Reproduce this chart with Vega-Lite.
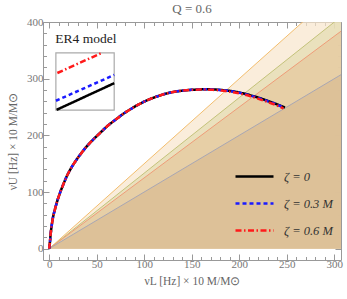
{
  "$schema": "https://vega.github.io/schema/vega-lite/v6.json",
  "width": 298,
  "height": 238,
  "autosize": "none",
  "padding": {"left": 43, "top": 22, "right": 6, "bottom": 39},
  "title": {"text": "Q = 0.6", "font": "Liberation Serif", "fontSize": 13, "fontWeight": "normal", "color": "#666", "offset": 0},
  "config": {
    "view": {"stroke": "#999", "strokeWidth": 1},
    "axis": {"grid": false, "domain": false, "tickColor": "#999", "labelFont": "Liberation Serif", "labelFontSize": 11, "labelColor": "#777", "titleFont": "Liberation Serif", "titleFontSize": 11.5, "titleFontWeight": "normal", "titleColor": "#666"}
  },
  "datasets": {
    "bands": [
      {"band": "3:2", "x": 0, "y": 0}, {"band": "3:2", "x": 310, "y": 465},
      {"band": "4:3", "x": 0, "y": 0}, {"band": "4:3", "x": 310, "y": 413.3},
      {"band": "5:4", "x": 0, "y": 0}, {"band": "5:4", "x": 310, "y": 387.5},
      {"band": "1:1", "x": 0, "y": 0}, {"band": "1:1", "x": 310, "y": 310}
    ],
    "curves": [
      {"s": "ζ = 0", "part": "main", "x": 0, "y": 0}, {"s": "ζ = 0", "part": "main", "x": 0.3, "y": 5}, {"s": "ζ = 0", "part": "main", "x": 0.7, "y": 10}, {"s": "ζ = 0", "part": "main", "x": 1.5, "y": 25}, {"s": "ζ = 0", "part": "main", "x": 2.5, "y": 39}, {"s": "ζ = 0", "part": "main", "x": 4, "y": 55}, {"s": "ζ = 0", "part": "main", "x": 6, "y": 69}, {"s": "ζ = 0", "part": "main", "x": 8.5, "y": 84}, {"s": "ζ = 0", "part": "main", "x": 11.3, "y": 98}, {"s": "ζ = 0", "part": "main", "x": 14.5, "y": 112}, {"s": "ζ = 0", "part": "main", "x": 18.3, "y": 127}, {"s": "ζ = 0", "part": "main", "x": 23, "y": 142}, {"s": "ζ = 0", "part": "main", "x": 28.8, "y": 157}, {"s": "ζ = 0", "part": "main", "x": 34, "y": 169}, {"s": "ζ = 0", "part": "main", "x": 39.3, "y": 180}, {"s": "ζ = 0", "part": "main", "x": 46, "y": 192}, {"s": "ζ = 0", "part": "main", "x": 53.4, "y": 204}, {"s": "ζ = 0", "part": "main", "x": 61, "y": 216}, {"s": "ζ = 0", "part": "main", "x": 69.3, "y": 227}, {"s": "ζ = 0", "part": "main", "x": 78, "y": 238}, {"s": "ζ = 0", "part": "main", "x": 88.4, "y": 249}, {"s": "ζ = 0", "part": "main", "x": 97, "y": 257}, {"s": "ζ = 0", "part": "main", "x": 106, "y": 264}, {"s": "ζ = 0", "part": "main", "x": 115, "y": 269.5}, {"s": "ζ = 0", "part": "main", "x": 123.6, "y": 274}, {"s": "ζ = 0", "part": "main", "x": 132, "y": 277}, {"s": "ζ = 0", "part": "main", "x": 141, "y": 279}, {"s": "ζ = 0", "part": "main", "x": 150, "y": 280.3}, {"s": "ζ = 0", "part": "main", "x": 158.6, "y": 281}, {"s": "ζ = 0", "part": "main", "x": 165, "y": 281.2}, {"s": "ζ = 0", "part": "main", "x": 172, "y": 281}, {"s": "ζ = 0", "part": "main", "x": 181, "y": 280}, {"s": "ζ = 0", "part": "main", "x": 190, "y": 278.5}, {"s": "ζ = 0", "part": "main", "x": 200, "y": 275.5}, {"s": "ζ = 0", "part": "main", "x": 211, "y": 271}, {"s": "ζ = 0", "part": "main", "x": 221, "y": 266}, {"s": "ζ = 0", "part": "main", "x": 232, "y": 259.5}, {"s": "ζ = 0", "part": "main", "x": 240, "y": 254.5}, {"s": "ζ = 0", "part": "main", "x": 248, "y": 249},
      {"s": "ζ = 0.3 M", "part": "main", "x": 0, "y": 0}, {"s": "ζ = 0.3 M", "part": "main", "x": 0.3, "y": 5}, {"s": "ζ = 0.3 M", "part": "main", "x": 0.7, "y": 10}, {"s": "ζ = 0.3 M", "part": "main", "x": 1.5, "y": 25}, {"s": "ζ = 0.3 M", "part": "main", "x": 2.5, "y": 39}, {"s": "ζ = 0.3 M", "part": "main", "x": 4, "y": 55}, {"s": "ζ = 0.3 M", "part": "main", "x": 6, "y": 69}, {"s": "ζ = 0.3 M", "part": "main", "x": 8.5, "y": 84}, {"s": "ζ = 0.3 M", "part": "main", "x": 11.3, "y": 98}, {"s": "ζ = 0.3 M", "part": "main", "x": 14.5, "y": 112}, {"s": "ζ = 0.3 M", "part": "main", "x": 18.3, "y": 127}, {"s": "ζ = 0.3 M", "part": "main", "x": 23, "y": 142}, {"s": "ζ = 0.3 M", "part": "main", "x": 28.8, "y": 157}, {"s": "ζ = 0.3 M", "part": "main", "x": 34, "y": 169}, {"s": "ζ = 0.3 M", "part": "main", "x": 39.3, "y": 180}, {"s": "ζ = 0.3 M", "part": "main", "x": 46, "y": 192}, {"s": "ζ = 0.3 M", "part": "main", "x": 53.4, "y": 204}, {"s": "ζ = 0.3 M", "part": "main", "x": 61, "y": 216}, {"s": "ζ = 0.3 M", "part": "main", "x": 69.3, "y": 227}, {"s": "ζ = 0.3 M", "part": "main", "x": 78, "y": 238}, {"s": "ζ = 0.3 M", "part": "main", "x": 88.4, "y": 249}, {"s": "ζ = 0.3 M", "part": "main", "x": 97, "y": 257}, {"s": "ζ = 0.3 M", "part": "main", "x": 106, "y": 264}, {"s": "ζ = 0.3 M", "part": "main", "x": 115, "y": 269.5}, {"s": "ζ = 0.3 M", "part": "main", "x": 123.6, "y": 274}, {"s": "ζ = 0.3 M", "part": "main", "x": 132, "y": 277}, {"s": "ζ = 0.3 M", "part": "main", "x": 141, "y": 279}, {"s": "ζ = 0.3 M", "part": "main", "x": 150, "y": 280.3}, {"s": "ζ = 0.3 M", "part": "main", "x": 158.6, "y": 281}, {"s": "ζ = 0.3 M", "part": "main", "x": 165, "y": 281.2}, {"s": "ζ = 0.3 M", "part": "main", "x": 172, "y": 281}, {"s": "ζ = 0.3 M", "part": "main", "x": 181, "y": 280}, {"s": "ζ = 0.3 M", "part": "main", "x": 190, "y": 278.3}, {"s": "ζ = 0.3 M", "part": "main", "x": 200, "y": 275.2}, {"s": "ζ = 0.3 M", "part": "main", "x": 211, "y": 270.6}, {"s": "ζ = 0.3 M", "part": "main", "x": 221, "y": 265.5}, {"s": "ζ = 0.3 M", "part": "main", "x": 232, "y": 259}, {"s": "ζ = 0.3 M", "part": "main", "x": 240, "y": 254}, {"s": "ζ = 0.3 M", "part": "main", "x": 247.5, "y": 248.6},
      {"s": "ζ = 0.6 M", "part": "main", "x": 0, "y": 0}, {"s": "ζ = 0.6 M", "part": "main", "x": 0.3, "y": 5}, {"s": "ζ = 0.6 M", "part": "main", "x": 0.7, "y": 10}, {"s": "ζ = 0.6 M", "part": "main", "x": 1.5, "y": 25}, {"s": "ζ = 0.6 M", "part": "main", "x": 2.5, "y": 39}, {"s": "ζ = 0.6 M", "part": "main", "x": 4, "y": 55}, {"s": "ζ = 0.6 M", "part": "main", "x": 6, "y": 69}, {"s": "ζ = 0.6 M", "part": "main", "x": 8.5, "y": 84}, {"s": "ζ = 0.6 M", "part": "main", "x": 11.3, "y": 98}, {"s": "ζ = 0.6 M", "part": "main", "x": 14.5, "y": 112}, {"s": "ζ = 0.6 M", "part": "main", "x": 18.3, "y": 127}, {"s": "ζ = 0.6 M", "part": "main", "x": 23, "y": 142}, {"s": "ζ = 0.6 M", "part": "main", "x": 28.8, "y": 157}, {"s": "ζ = 0.6 M", "part": "main", "x": 34, "y": 169}, {"s": "ζ = 0.6 M", "part": "main", "x": 39.3, "y": 180}, {"s": "ζ = 0.6 M", "part": "main", "x": 46, "y": 192}, {"s": "ζ = 0.6 M", "part": "main", "x": 53.4, "y": 204}, {"s": "ζ = 0.6 M", "part": "main", "x": 61, "y": 216}, {"s": "ζ = 0.6 M", "part": "main", "x": 69.3, "y": 227}, {"s": "ζ = 0.6 M", "part": "main", "x": 78, "y": 238}, {"s": "ζ = 0.6 M", "part": "main", "x": 88.4, "y": 249}, {"s": "ζ = 0.6 M", "part": "main", "x": 97, "y": 257}, {"s": "ζ = 0.6 M", "part": "main", "x": 106, "y": 264}, {"s": "ζ = 0.6 M", "part": "main", "x": 115, "y": 269.5}, {"s": "ζ = 0.6 M", "part": "main", "x": 123.6, "y": 274}, {"s": "ζ = 0.6 M", "part": "main", "x": 132, "y": 277}, {"s": "ζ = 0.6 M", "part": "main", "x": 141, "y": 279}, {"s": "ζ = 0.6 M", "part": "main", "x": 150, "y": 280.2}, {"s": "ζ = 0.6 M", "part": "main", "x": 158.6, "y": 280.7}, {"s": "ζ = 0.6 M", "part": "main", "x": 165, "y": 280.7}, {"s": "ζ = 0.6 M", "part": "main", "x": 172, "y": 280.3}, {"s": "ζ = 0.6 M", "part": "main", "x": 181, "y": 279}, {"s": "ζ = 0.6 M", "part": "main", "x": 190, "y": 277}, {"s": "ζ = 0.6 M", "part": "main", "x": 200, "y": 274}, {"s": "ζ = 0.6 M", "part": "main", "x": 211, "y": 269.3}, {"s": "ζ = 0.6 M", "part": "main", "x": 221, "y": 264}, {"s": "ζ = 0.6 M", "part": "main", "x": 232, "y": 257.5}, {"s": "ζ = 0.6 M", "part": "main", "x": 240, "y": 252.5}, {"s": "ζ = 0.6 M", "part": "main", "x": 246.5, "y": 247.5},
      {"s": "ζ = 0", "part": "inset", "x": 7.8, "y": 245}, {"s": "ζ = 0", "part": "inset", "x": 68.4, "y": 292},
      {"s": "ζ = 0.3 M", "part": "inset", "x": 7.1, "y": 261}, {"s": "ζ = 0.3 M", "part": "inset", "x": 68.4, "y": 306.6},
      {"s": "ζ = 0.6 M", "part": "inset", "x": 8.6, "y": 310}, {"s": "ζ = 0.6 M", "part": "inset", "x": 54.7, "y": 345}
    ],
    "insetbox": [{"x": 7.05, "x2": 68.4, "y": 244.4, "y2": 345.4}],
    "notes": [{"label": "ER4 model", "x": 6.5, "y": 369.5}]
  },
  "layer": [
    {
      "data": {"name": "bands"},
      "transform": [{"filter": "datum.band === '3:2'"}],
      "mark": {"type": "area", "clip": true, "fill": "#f8e6cc", "line": {"stroke": "#f2bd6e", "strokeWidth": 1}},
      "encoding": {
        "x": {"field": "x", "type": "quantitative", "scale": {"domain": [-6.5, 307], "nice": false, "zero": false},
          "axis": {"orient": "bottom", "values": [0,10,20,30,40,50,60,70,80,90,100,110,120,130,140,150,160,170,180,190,200,210,220,230,240,250,260,270,280,290,300],
            "labelExpr": "datum.value % 50 === 0 ? datum.label : ''",
            "tickSize": {"condition": {"test": "datum.value % 50 === 0", "value": -6}, "value": -3.5},
            "labelPadding": 4, "title": "νL [Hz] × 10 M/M⊙", "titlePadding": 6}},
        "y": {"field": "y", "type": "quantitative", "scale": {"domain": [-20, 400], "nice": false, "zero": false},
          "axis": {"orient": "left", "values": [0,20,40,60,80,100,120,140,160,180,200,220,240,260,280,300,320,340,360,380,400],
            "labelExpr": "datum.value % 100 === 0 ? datum.label : ''",
            "tickSize": {"condition": {"test": "datum.value % 100 === 0", "value": -6}, "value": -3.5},
            "labelPadding": 6, "title": "νU [Hz] × 10 M/M⊙", "titlePadding": 8}},
        "y2": {"datum": 0}
      }
    },
    {
      "data": {"name": "bands"},
      "transform": [{"filter": "datum.band === '4:3'"}],
      "mark": {"type": "area", "clip": true, "fill": "#e3dcb1", "line": {"stroke": "#c3c27a", "strokeWidth": 1}},
      "encoding": {
        "x": {"field": "x", "type": "quantitative", "scale": {"domain": [-6.5, 307], "nice": false, "zero": false}, "axis": null},
        "y": {"field": "y", "type": "quantitative", "scale": {"domain": [-20, 400], "nice": false, "zero": false}, "axis": null},
        "y2": {"datum": 0}
      }
    },
    {
      "data": {"name": "bands"},
      "transform": [{"filter": "datum.band === '5:4'"}],
      "mark": {"type": "area", "clip": true, "fill": "#e6c89d", "line": {"stroke": "#ef9c78", "strokeWidth": 1}},
      "encoding": {
        "x": {"field": "x", "type": "quantitative", "scale": {"domain": [-6.5, 307], "nice": false, "zero": false}, "axis": null},
        "y": {"field": "y", "type": "quantitative", "scale": {"domain": [-20, 400], "nice": false, "zero": false}, "axis": null},
        "y2": {"datum": 0}
      }
    },
    {
      "data": {"name": "bands"},
      "transform": [{"filter": "datum.band === '1:1'"}],
      "mark": {"type": "area", "clip": true, "fill": "#d8ba93", "line": {"stroke": "#a9a7b3", "strokeWidth": 1}},
      "encoding": {
        "x": {"field": "x", "type": "quantitative", "scale": {"domain": [-6.5, 307], "nice": false, "zero": false}, "axis": null},
        "y": {"field": "y", "type": "quantitative", "scale": {"domain": [-20, 400], "nice": false, "zero": false}, "axis": null},
        "y2": {"datum": 0}
      }
    },
    {
      "data": {"name": "insetbox"},
      "mark": {"type": "rect", "fill": "white", "stroke": "#aaa", "strokeWidth": 1.2},
      "encoding": {
        "x": {"field": "x", "type": "quantitative", "scale": {"domain": [-6.5, 307], "nice": false, "zero": false},
          "axis": {"orient": "top", "values": [0,10,20,30,40,50,60,70,80,90,100,110,120,130,140,150,160,170,180,190,200,210,220,230,240,250,260,270,280,290,300],
            "labels": false, "title": null,
            "tickSize": {"condition": {"test": "datum.value % 50 === 0", "value": -6}, "value": -3.5}}},
        "x2": {"field": "x2"},
        "y": {"field": "y", "type": "quantitative", "scale": {"domain": [-20, 400], "nice": false, "zero": false},
          "axis": {"orient": "right", "values": [0,20,40,60,80,100,120,140,160,180,200,220,240,260,280,300,320,340,360,380,400],
            "labels": false, "title": null,
            "tickSize": {"condition": {"test": "datum.value % 100 === 0", "value": -6}, "value": -3.5}}},
        "y2": {"field": "y2"}
      }
    },
    {
      "data": {"name": "notes"},
      "mark": {"type": "text", "align": "left", "baseline": "middle", "font": "Liberation Serif", "fontSize": 13.5, "color": "#222"},
      "encoding": {
        "x": {"field": "x", "type": "quantitative", "scale": {"domain": [-6.5, 307], "nice": false, "zero": false}, "axis": null},
        "y": {"field": "y", "type": "quantitative", "scale": {"domain": [-20, 400], "nice": false, "zero": false}, "axis": null},
        "text": {"field": "label"}
      }
    },
    {
      "data": {"name": "curves"},
      "mark": {"type": "line", "strokeWidth": 2.5, "interpolate": "monotone", "clip": true},
      "encoding": {
        "x": {"field": "x", "type": "quantitative", "scale": {"domain": [-6.5, 307], "nice": false, "zero": false}, "axis": null},
        "y": {"field": "y", "type": "quantitative", "scale": {"domain": [-20, 400], "nice": false, "zero": false}, "axis": null},
        "detail": {"field": "part"},
        "color": {"field": "s", "type": "nominal",
          "scale": {"domain": ["ζ = 0", "ζ = 0.3 M", "ζ = 0.6 M"], "range": ["#000000", "#1a1aff", "#ff1a1a"]},
          "legend": {"orient": "none", "legendX": 191, "legendY": 134, "title": null, "symbolType": "stroke", "symbolSize": 1444, "symbolStrokeWidth": 2.5, "labelFont": "Liberation Serif", "labelFontStyle": "italic", "labelFontSize": 12.5, "labelColor": "#333", "labelOffset": 9, "rowPadding": -20}},
        "strokeDash": {"field": "s", "type": "nominal",
          "scale": {"domain": ["ζ = 0", "ζ = 0.3 M", "ζ = 0.6 M"], "range": [[1, 0], [4, 3], [6, 2.5, 1.5, 2.5]]},
          "legend": {"orient": "none", "legendX": 191, "legendY": 134, "title": null, "symbolType": "stroke", "symbolSize": 1444, "symbolStrokeWidth": 2.5, "labelFont": "Liberation Serif", "labelFontStyle": "italic", "labelFontSize": 12.5, "labelColor": "#333", "labelOffset": 9, "rowPadding": -20}},
        "order": {"field": "s"}
      }
    }
  ],
  "resolve": {"axis": {"x": "independent", "y": "independent"}}
}
